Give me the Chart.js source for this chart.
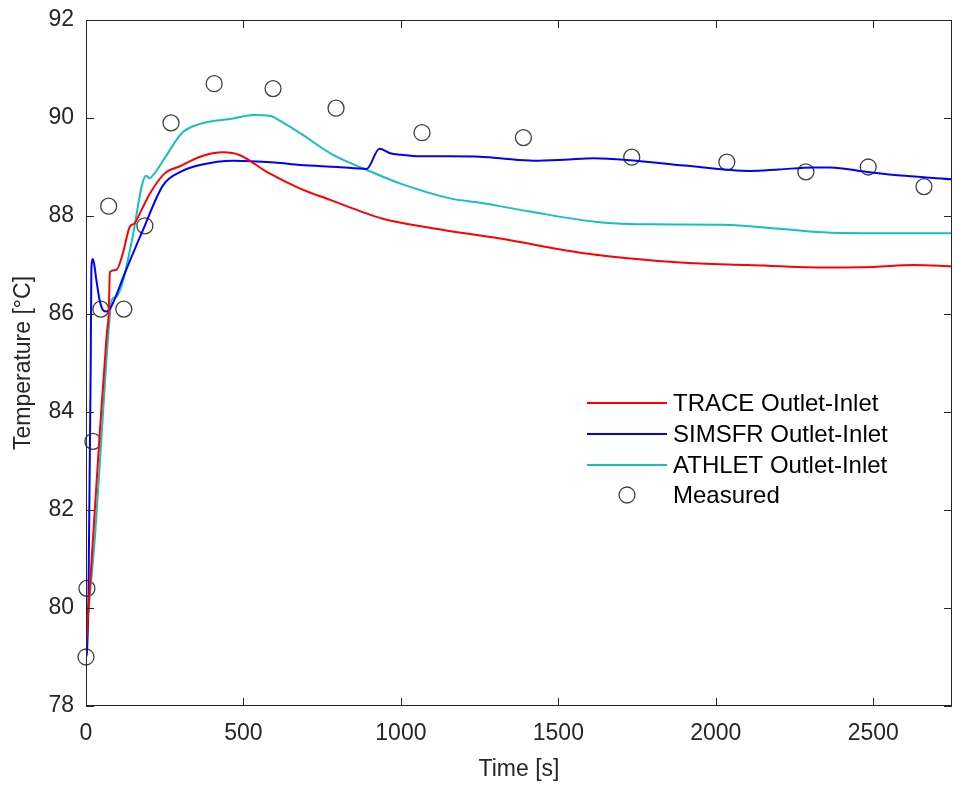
<!DOCTYPE html>
<html>
<head>
<meta charset="utf-8">
<script src="https://cdn.jsdelivr.net/npm/chart.js@4.4.1/dist/chart.umd.min.js"></script>
<style>
  html, body { margin: 0; padding: 0; background: #fff; }
  #wrap { width: 953px; height: 789px; }
</style>
</head>
<body>
<div id="wrap"><canvas id="chart" width="953" height="789"></canvas></div>
<script>
// TRACE outlet-inlet temperature difference
const traceTime = [0, 23, 44, 66, 72, 76, 96, 117, 139, 154, 176, 203, 250, 300, 362, 436, 489, 574, 680, 775, 870, 945, 1100, 1315, 1569, 1887, 2100, 2363, 2500, 2628, 2750];
const traceTemp = [79.2, 81.5, 83.6, 85.6, 86.0, 86.86, 86.9, 87.24, 87.78, 87.85, 88.12, 88.46, 88.87, 89.02, 89.21, 89.3, 89.24, 88.9, 88.56, 88.33, 88.1, 87.94, 87.75, 87.54, 87.25, 87.05, 87.0, 86.95, 86.96, 87.0, 86.97];

// SIMSFR outlet-inlet
const simsfrTime = [0, 3, 8, 15, 17, 22, 33, 43, 54, 65, 80, 123, 180, 245, 300, 362, 468, 600, 680, 800, 891, 932, 966, 1000, 1061, 1150, 1252, 1315, 1421, 1520, 1612, 1728, 1900, 2109, 2200, 2310, 2363, 2480, 2600, 2750];
const simsfrTemp = [79.0, 79.1, 80.3, 85.0, 86.9, 87.12, 86.69, 86.29, 86.08, 86.05, 86.15, 86.83, 87.7, 88.63, 88.9, 89.04, 89.13, 89.09, 89.04, 89.0, 88.96, 89.37, 89.28, 89.25, 89.22, 89.22, 89.21, 89.18, 89.13, 89.15, 89.18, 89.14, 89.03, 88.92, 88.95, 88.99, 88.99, 88.9, 88.82, 88.75];

// ATHLET outlet-inlet
const athletTime = [0, 3, 29, 50, 71, 82, 96, 117, 144, 191, 202, 214, 250, 304, 362, 468, 531, 585, 627, 680, 786, 881, 999, 1156, 1252, 1410, 1622, 1800, 2025, 2200, 2363, 2550, 2750];
const athletTemp = [79.4, 79.62, 81.5, 83.57, 85.6, 86.29, 86.35, 86.66, 87.44, 88.82, 88.77, 88.84, 89.18, 89.69, 89.88, 89.99, 90.06, 90.04, 89.9, 89.69, 89.24, 88.97, 88.66, 88.36, 88.27, 88.09, 87.88, 87.83, 87.82, 87.74, 87.66, 87.65, 87.65];

// measurements
const measTime = [0, 3, 22, 47, 72, 120, 187, 270, 407, 594, 794, 1067, 1389, 1733, 2035, 2286, 2484, 2661];
const measTemp = [79.0, 80.4, 83.4, 86.1, 88.2, 86.1, 87.8, 89.9, 90.7, 90.6, 90.2, 89.7, 89.6, 89.2, 89.1, 88.9, 89.0, 88.6];

const seriesLabels = ['TRACE Outlet-Inlet', 'SIMSFR Outlet-Inlet', 'ATHLET Outlet-Inlet', 'Measured'];
const xTicks = [0, 500, 1000, 1500, 2000, 2500];
const yTicks = [78, 80, 82, 84, 86, 88, 90, 92];

const FONT = 'Arial, "Liberation Sans", sans-serif';
const AXIS_COLOR = '#262626';

function pairs(xs, ys) {
    return xs.map((x, i) => ({ x: x, y: ys[i] }));
}

function lineSet(label, xs, ys, color) {
    return {
        label: label,
        data: pairs(xs, ys),
        showLine: true,
        borderColor: color,
        backgroundColor: color,
        borderWidth: 2,
        pointRadius: 0,
        cubicInterpolationMode: 'monotone'
    };
}

// box around the plot with inward tick marks on all four sides
const boxAxes = {
    id: 'boxAxes',
    afterDatasetsDraw(chart) {
        const { ctx, chartArea: a, scales } = chart;
        const len = 8;
        ctx.save();
        ctx.strokeStyle = AXIS_COLOR;
        ctx.lineWidth = 1;
        ctx.strokeRect(a.left + 0.5, a.top + 0.5, a.right - a.left - 1, a.bottom - a.top - 1);
        ctx.beginPath();
        xTicks.forEach(v => {
            const px = Math.round(scales.x.getPixelForValue(v)) + 0.5;
            ctx.moveTo(px, a.bottom);
            ctx.lineTo(px, a.bottom - len);
            ctx.moveTo(px, a.top);
            ctx.lineTo(px, a.top + len);
        });
        yTicks.forEach(v => {
            const py = Math.round(scales.y.getPixelForValue(v)) + 0.5;
            ctx.moveTo(a.left, py);
            ctx.lineTo(a.left + len, py);
            ctx.moveTo(a.right, py);
            ctx.lineTo(a.right - len, py);
        });
        ctx.stroke();
        ctx.restore();
    }
};

// legend inside the plot, no frame
const innerLegend = {
    id: 'innerLegend',
    afterDraw(chart) {
        const { ctx } = chart;
        const lineX0 = 587, lineX1 = 667, textX = 673;
        const rowY = [403, 434, 465, 495];
        ctx.save();
        ctx.font = '24px ' + FONT;
        ctx.textBaseline = 'middle';
        ctx.fillStyle = '#000';
        chart.data.datasets.forEach((ds, i) => {
            const y = rowY[i];
            if (ds.showLine) {
                ctx.strokeStyle = ds.borderColor;
                ctx.lineWidth = 2;
                ctx.beginPath();
                ctx.moveTo(lineX0, y);
                ctx.lineTo(lineX1, y);
                ctx.stroke();
            } else {
                ctx.strokeStyle = ds.borderColor;
                ctx.lineWidth = ds.borderWidth;
                ctx.beginPath();
                ctx.arc((lineX0 + lineX1) / 2, y, ds.pointRadius, 0, Math.PI * 2);
                ctx.stroke();
            }
            ctx.fillText(ds.label, textX, y + 1);
        });
        ctx.restore();
    }
};

function noEdgePadding(scale) {
    scale.paddingLeft = 0;
    scale.paddingRight = 0;
    scale.paddingTop = 0;
    scale.paddingBottom = 0;
}

new Chart(document.getElementById('chart'), {
    type: 'scatter',
    data: {
        datasets: [
            lineSet(seriesLabels[0], traceTime, traceTemp, '#ff0000'),
            lineSet(seriesLabels[1], simsfrTime, simsfrTemp, '#0000ff'),
            lineSet(seriesLabels[2], athletTime, athletTemp, '#17bfbf'),
            {
                label: seriesLabels[3],
                data: pairs(measTime, measTemp),
                showLine: false,
                pointStyle: 'circle',
                pointRadius: 8,
                borderColor: '#404040',
                backgroundColor: 'rgba(0,0,0,0)',
                borderWidth: 1.3,
                clip: false
            }
        ]
    },
    options: {
        responsive: false,
        animation: false,
        layout: { autoPadding: false, padding: { left: 0, top: 20, right: 1, bottom: 0 } },
        plugins: {
            legend: { display: false },
            tooltip: { enabled: false }
        },
        scales: {
            x: {
                type: 'linear',
                min: 0,
                max: 2750,
                afterFit(scale) { scale.height = 83; noEdgePadding(scale); },
                afterBuildTicks(scale) { scale.ticks = xTicks.map(v => ({ value: v })); },
                grid: { display: false, drawTicks: false },
                border: { display: false },
                ticks: {
                    color: AXIS_COLOR,
                    padding: 14,
                    maxRotation: 0,
                    font: { family: FONT, size: 23 },
                    callback: v => String(v)
                },
                title: {
                    display: true,
                    text: 'Time [s]',
                    color: AXIS_COLOR,
                    padding: { top: 0, bottom: 6 },
                    font: { family: FONT, size: 23 }
                }
            },
            y: {
                min: 78,
                max: 92,
                afterFit(scale) { scale.width = 86; noEdgePadding(scale); },
                afterBuildTicks(scale) { scale.ticks = yTicks.map(v => ({ value: v })); },
                grid: { display: false, drawTicks: false },
                border: { display: false },
                ticks: {
                    color: AXIS_COLOR,
                    padding: 12,
                    font: { family: FONT, size: 23 },
                    callback: v => String(v)
                },
                title: {
                    display: true,
                    text: 'Temperature [°C]',
                    color: AXIS_COLOR,
                    padding: { top: 10, bottom: 0 },
                    font: { family: FONT, size: 23 }
                }
            }
        }
    },
    plugins: [boxAxes, innerLegend]
});
</script>
</body>
</html>
